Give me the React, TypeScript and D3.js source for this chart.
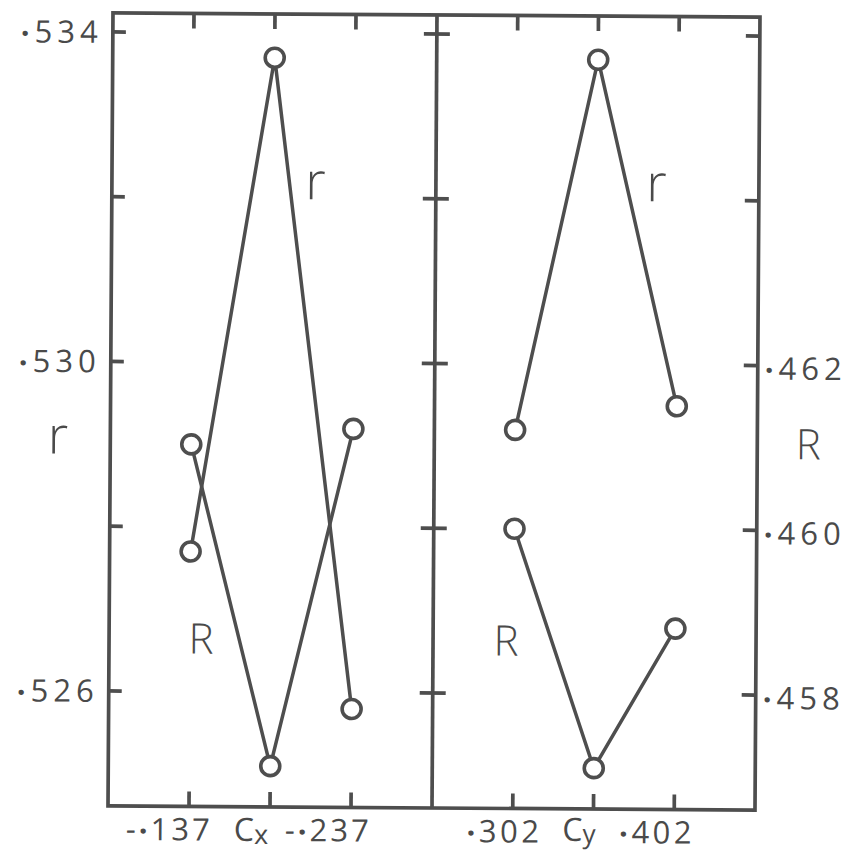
import React from 'react';
import * as d3 from 'd3';

// Parameter settings along each horizontal axis
const cxValues = [-0.137, -0.187, -0.237];
const cyValues = [0.302, 0.352, 0.402];

// Correlation r (left scale) and R (right scale) for each setting
const rVsCx = [0.5277, 0.5337, 0.5258];
const bigRVsCx = [0.461, 0.4571, 0.4612];
const rVsCy = [0.5292, 0.5337, 0.5295];
const bigRVsCy = [0.46, 0.4571, 0.4588];

// Vertical tick marks and the subset that carries labels
const rTicks = [0.526, 0.528, 0.53, 0.532, 0.534];
const bigRTicks = [0.458, 0.46, 0.462, 0.464, 0.466];
const rLabelled = [0.526, 0.53, 0.534];
const bigRLabelled = [0.458, 0.46, 0.462];

const INK = '#4e4e4e';
const TEXT = '#4a4a4a';
const FONT = '"Open Sans", "DejaVu Sans", sans-serif';

const left = 110.5;
const mid = 434.5;
const right = 757.5;
const top = 15;
const bottom = 808;
const SW = 3.7;

const yr = d3.scaleLinear().domain([0.526, 0.534]).range([693, 34]);
const yR = d3.scaleLinear().domain([0.458, 0.466]).range([693, 34]);

const fmt = (v: number) => d3.format('.3f')(Math.abs(v)).replace(/^0/, '');

function panelScale(xs: number[], x0: number, x1: number) {
  const step = xs[1] - xs[0];
  return d3.scaleLinear().domain([xs[0] - step, xs[2] + step]).range([x0, x1]);
}

// Number rendered as lettering: the decimal point sits raised off the baseline
function Num({ v, x, y, anchor, spacing = 6 }: { v: number; x: number; y: number; anchor: 'start' | 'end'; spacing?: number }) {
  const s = fmt(v);
  const neg = v < 0;
  return (
    <text x={x} y={y} textAnchor={anchor} fontFamily={FONT} fontWeight={400} fontSize={31}
      letterSpacing={spacing} fill={TEXT}>
      {neg ? <tspan>-</tspan> : null}
      <tspan dy={-7} fontWeight={700}>.</tspan>
      <tspan dy={7}>{s.slice(1)}</tspan>
    </text>
  );
}

function Series({ xs, ys, x, y }: { xs: number[]; ys: number[]; x: d3.ScaleLinear<number, number>; y: d3.ScaleLinear<number, number> }) {
  const pts: [number, number][] = xs.map((v, i) => [x(v), y(ys[i])]);
  const line = d3.line();
  return (
    <g>
      <path d={line(pts) || ''} fill="none" stroke={INK} strokeWidth={3.5} />
      {pts.map((p, i) => (
        <circle key={i} cx={p[0]} cy={p[1]} r={9.5} fill="#fff" stroke={INK} strokeWidth={3.6} />
      ))}
    </g>
  );
}

export default function App() {
  const xl = panelScale(cxValues, left, mid);
  const xrr = panelScale(cyValues, mid, right);
  const tick = 13;

  return (
    <svg width={861} height={856} style={{ position: 'absolute', left: 0, top: 0, background: '#fff' }}>
      <g transform="rotate(0.36 434 410)" strokeLinecap="butt">
        {/* frame and divider */}
        <rect x={left} y={top} width={right - left} height={bottom - top} fill="none" stroke={INK} strokeWidth={SW} />
        <line x1={mid} x2={mid} y1={top} y2={bottom} stroke={INK} strokeWidth={SW} />

        {/* vertical ticks: left axis, divider (both sides), right axis */}
        {rTicks.map((t) => (
          <g key={t}>
            <line x1={left} x2={left + tick} y1={yr(t)} y2={yr(t)} stroke={INK} strokeWidth={SW} />
            <line x1={mid - 13} x2={mid + 13} y1={yr(t)} y2={yr(t)} stroke={INK} strokeWidth={SW} />
          </g>
        ))}
        {bigRTicks.map((t) => (
          <line key={t} x1={right - tick - 1} x2={right} y1={yR(t)} y2={yR(t)} stroke={INK} strokeWidth={SW} />
        ))}

        {/* horizontal ticks on top and bottom edges */}
        {[...cxValues.map((v) => xl(v)), ...cyValues.map((v) => xrr(v))].map((px, i) => (
          <g key={i}>
            <line x1={px} x2={px} y1={top} y2={top + tick + 2} stroke={INK} strokeWidth={SW} />
            <line x1={px} x2={px} y1={bottom} y2={bottom - tick - 2} stroke={INK} strokeWidth={SW} />
          </g>
        ))}

        {/* data */}
        <Series xs={cxValues} ys={rVsCx} x={xl} y={yr} />
        <Series xs={cxValues} ys={bigRVsCx} x={xl} y={yR} />
        <Series xs={cyValues} ys={rVsCy} x={xrr} y={yr} />
        <Series xs={cyValues} ys={bigRVsCy} x={xrr} y={yR} />

        {/* left axis labels */}
        {rLabelled.map((v) => (
          <Num key={v} v={v} x={left - 10} y={yr(v) + 11} anchor="end" spacing={5} />
        ))}
        <text x={48} y={456} fontFamily={FONT} fontWeight={300} fontSize={52} fill={TEXT}>r</text>

        {/* right axis labels */}
        {bigRLabelled.map((v) => (
          <Num key={v} v={v} x={right + 7} y={yR(v) + 14} anchor="start" spacing={5} />
        ))}
        <text x={796} y={457} fontFamily={FONT} fontWeight={300} fontSize={42} fill={TEXT}>R</text>

        {/* in-plot series names */}
        <text x={304} y={200} fontFamily={FONT} fontWeight={300} fontSize={52} fill={TEXT}>r</text>
        <text x={645} y={200} fontFamily={FONT} fontWeight={300} fontSize={52} fill={TEXT}>r</text>
        <text x={190} y={655} fontFamily={FONT} fontWeight={300} fontSize={42} fill={TEXT}>R</text>
        <text x={495} y={655} fontFamily={FONT} fontWeight={300} fontSize={42} fill={TEXT}>R</text>

        {/* bottom axis labels */}
        <Num v={cxValues[0]} x={xl(cxValues[0]) + 24} y={842} anchor="end" spacing={3} />
        <text x={xl(cxValues[1]) - 36} y={842} fontFamily={FONT} fontWeight={400} fontSize={32} fill={TEXT}>
          C<tspan dy={3} fontSize={27}>x</tspan>
        </text>
        <Num v={cxValues[2]} x={xl(cxValues[2]) - 66} y={842} anchor="start" spacing={3} />

        <Num v={cyValues[0]} x={xrr(cyValues[0]) + 30} y={842} anchor="end" spacing={3.5} />
        <text x={xrr(cyValues[1]) - 31} y={840} fontFamily={FONT} fontWeight={400} fontSize={32} fill={TEXT}>
          C<tspan dy={2} fontSize={26}>y</tspan>
        </text>
        <Num v={cyValues[2]} x={xrr(cyValues[2]) - 55} y={842} anchor="start" spacing={3.5} />
      </g>
    </svg>
  );
}
